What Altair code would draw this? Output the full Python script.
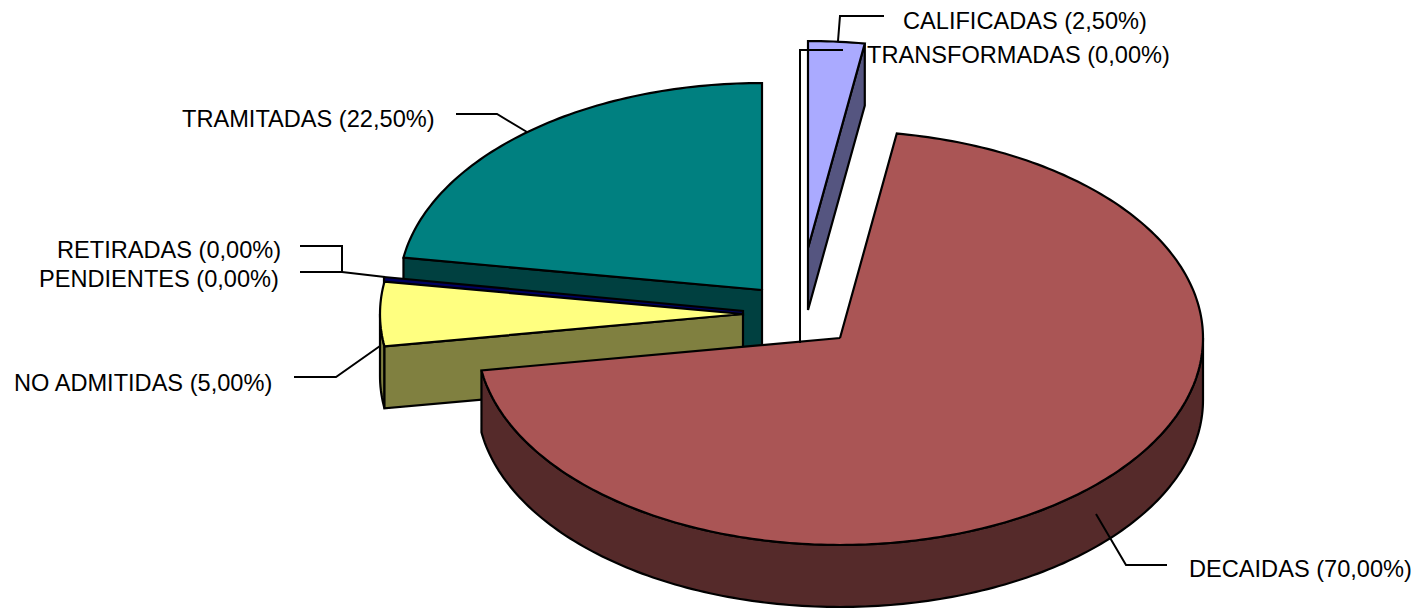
import numpy as np
import pandas as pd
import altair as alt

# --- chart values ---
categories = ["CALIFICADAS", "DECAIDAS", "TRANSFORMADAS", "RETIRADAS", "PENDIENTES", "NO ADMITIDAS", "TRAMITADAS"]
shares = [2.5, 70.0, 0.0, 0.0, 0.0, 5.0, 22.5]

# --- styles / layout ---
RX, RY, DEPTH = 363.0, 207.0, 62.0
FONT = "Liberation Sans"
FONT_SIZE = 23.6
W, H = 1403, 601
x_scale = alt.Scale(domain=[8, 8 + W], range=[0, W], nice=False, zero=False)
y_scale = alt.Scale(domain=[8, 8 + H], range=[0, H], nice=False, zero=False)

top_colors = {"CALIFICADAS": "#AAAAFF", "DECAIDAS": "#AA5555", "NO ADMITIDAS": "#FFFF80", "TRAMITADAS": "#008080"}
side_colors = {"CALIFICADAS": "#555580", "DECAIDAS": "#552A2A", "NO ADMITIDAS": "#808040", "TRAMITADAS": "#004040"}
centres = {"CALIFICADAS": (808, 248), "DECAIDAS": (840, 338), "NO ADMITIDAS": (743, 314), "TRAMITADAS": (762, 290)}

# label anchor: left x, middle y, and elbow leader points
label_pos = {
    "CALIFICADAS": (903, 22),
    "TRANSFORMADAS": (867, 56),
    "TRAMITADAS": (182, 120),
    "RETIRADAS": (57, 251),
    "PENDIENTES": (39, 280),
    "NO ADMITIDAS": (14, 384),
    "DECAIDAS": (1189, 570),
}
leaders = {
    "CALIFICADAS": [(884, 16), (840, 16), (838, 41)],
    "TRANSFORMADAS": [(843, 50), (800, 50), (800, 343)],
    "TRAMITADAS": [(456, 114), (497, 114), (527, 132)],
    "RETIRADAS": [(300, 246), (342, 246), (342, 272)],
    "PENDIENTES": [(300, 272), (342, 272), (385, 277)],
    "NO ADMITIDAS": [(294, 377), (336, 377), (380, 346)],
    "DECAIDAS": [(1167, 565), (1126, 565), (1096, 514)],
}

# --- slice angles from the shares (clockwise from 12 o'clock) ---
angles = {}
start = 0.0
for name, share in zip(categories, shares):
    angles[name] = (start, start + share * 3.6)
    start += share * 3.6


def arc(c, a0, a1, dy=0.0):
    n = max(2, int(abs(a1 - a0)) + 1)
    t = np.radians(np.linspace(a0, a1, n))
    return [(c[0] + RX * np.sin(v), c[1] - RY * np.cos(v) + dy) for v in t]


def shape_layers(points, fill):
    """Fill (x-convex polygon scanned column by column) and a closed outline."""
    pts = points + [points[0]]
    xs = sorted({round(p[0], 2) for p in pts})
    rows = []
    for x in xs:
        hits = []
        for (x0, y0), (x1, y1) in zip(pts[:-1], pts[1:]):
            lo, hi = min(x0, x1), max(x0, x1)
            if lo - 0.01 <= x <= hi + 0.01:
                if abs(x1 - x0) < 1e-6:
                    hits += [y0, y1]
                else:
                    hits.append(y0 + (y1 - y0) * (np.clip(x, lo, hi) - x0) / (x1 - x0))
        rows.append({"x": x, "y": min(hits), "y2": max(hits)})
    area = alt.Chart(pd.DataFrame(rows)).mark_area(color=fill, opacity=1, interpolate="linear").encode(
        x=alt.X("x:Q", scale=x_scale, axis=None),
        y=alt.Y("y:Q", scale=y_scale, axis=None),
        y2="y2:Q",
    )
    line_df = pd.DataFrame([{"x": p[0], "y": p[1], "i": i} for i, p in enumerate(pts)])
    return [area, polyline(line_df)]


def polyline(df, width=2.2):
    return alt.Chart(df).mark_line(color="black", strokeWidth=width, interpolate="linear").encode(
        x=alt.X("x:Q", scale=x_scale, axis=None),
        y=alt.Y("y:Q", scale=y_scale, axis=None),
        order=alt.Order("i:Q"),
    )


def wedge(name):
    c = centres[name]
    a0, a1 = angles[name]
    return [c] + arc(c, a0, a1)


def offset(points, dy):
    return [(x, y + dy) for x, y in points]


layers = []

# TRAMITADAS: cut face, then top
c = centres["TRAMITADAS"]
edge = arc(c, angles["TRAMITADAS"][0], angles["TRAMITADAS"][0])[0]
layers += shape_layers([edge, c, (c[0], c[1] + DEPTH), (edge[0], edge[1] + DEPTH)], side_colors["TRAMITADAS"])
layers += shape_layers(wedge("TRAMITADAS"), top_colors["TRAMITADAS"])

# RETIRADAS / PENDIENTES: zero-size slices seen as a thin navy sliver
layers += shape_layers([(384, 277), (743, 311), (743, 315), (384, 283)], "#000060")

# NO ADMITIDAS: outer side, cut face, top
c = centres["NO ADMITIDAS"]
a0, a1 = angles["NO ADMITIDAS"]
low = arc(c, a0, a0)[0]
outer = arc(c, a0, 270.0)
layers += shape_layers(outer + offset(outer[::-1], DEPTH), side_colors["NO ADMITIDAS"])
layers += shape_layers([low, c, (c[0], c[1] + DEPTH), (low[0], low[1] + DEPTH)], side_colors["NO ADMITIDAS"])
layers += shape_layers(wedge("NO ADMITIDAS"), top_colors["NO ADMITIDAS"])

# CALIFICADAS: cut face, top
c = centres["CALIFICADAS"]
tip = arc(c, angles["CALIFICADAS"][1], angles["CALIFICADAS"][1])[0]
layers += shape_layers([c, tip, (tip[0], tip[1] + DEPTH), (c[0], c[1] + DEPTH)], side_colors["CALIFICADAS"])
layers += shape_layers(wedge("CALIFICADAS"), top_colors["CALIFICADAS"])

# DECAIDAS: outer side, top
c = centres["DECAIDAS"]
a1 = angles["DECAIDAS"][1]
outer = arc(c, 90.0, a1)
layers += shape_layers(outer + offset(outer[::-1], DEPTH), side_colors["DECAIDAS"])
layers += shape_layers(wedge("DECAIDAS"), top_colors["DECAIDAS"])

# leader lines
for name in categories:
    df = pd.DataFrame([{"x": p[0], "y": p[1], "i": i} for i, p in enumerate(leaders[name])])
    layers.append(polyline(df, 2.0))

# labels
label_df = pd.DataFrame([
    {
        "x": label_pos[n][0],
        "y": label_pos[n][1],
        "label": f"{n} ({s:.2f}%)".replace(".", ","),
    }
    for n, s in zip(categories, shares)
])
layers.append(
    alt.Chart(label_df).mark_text(align="left", baseline="middle", font=FONT, fontSize=FONT_SIZE, color="black").encode(
        x=alt.X("x:Q", scale=x_scale, axis=None),
        y=alt.Y("y:Q", scale=y_scale, axis=None),
        text="label:N",
    )
)

chart = alt.layer(*layers).properties(
    width=W,
    height=H,
    padding=0,
    autosize=alt.AutoSizeParams(type="none"),
    background="white",
).configure_view(stroke=None)

chart.save("out.html", embed_options={"renderer": "svg", "actions": False})
